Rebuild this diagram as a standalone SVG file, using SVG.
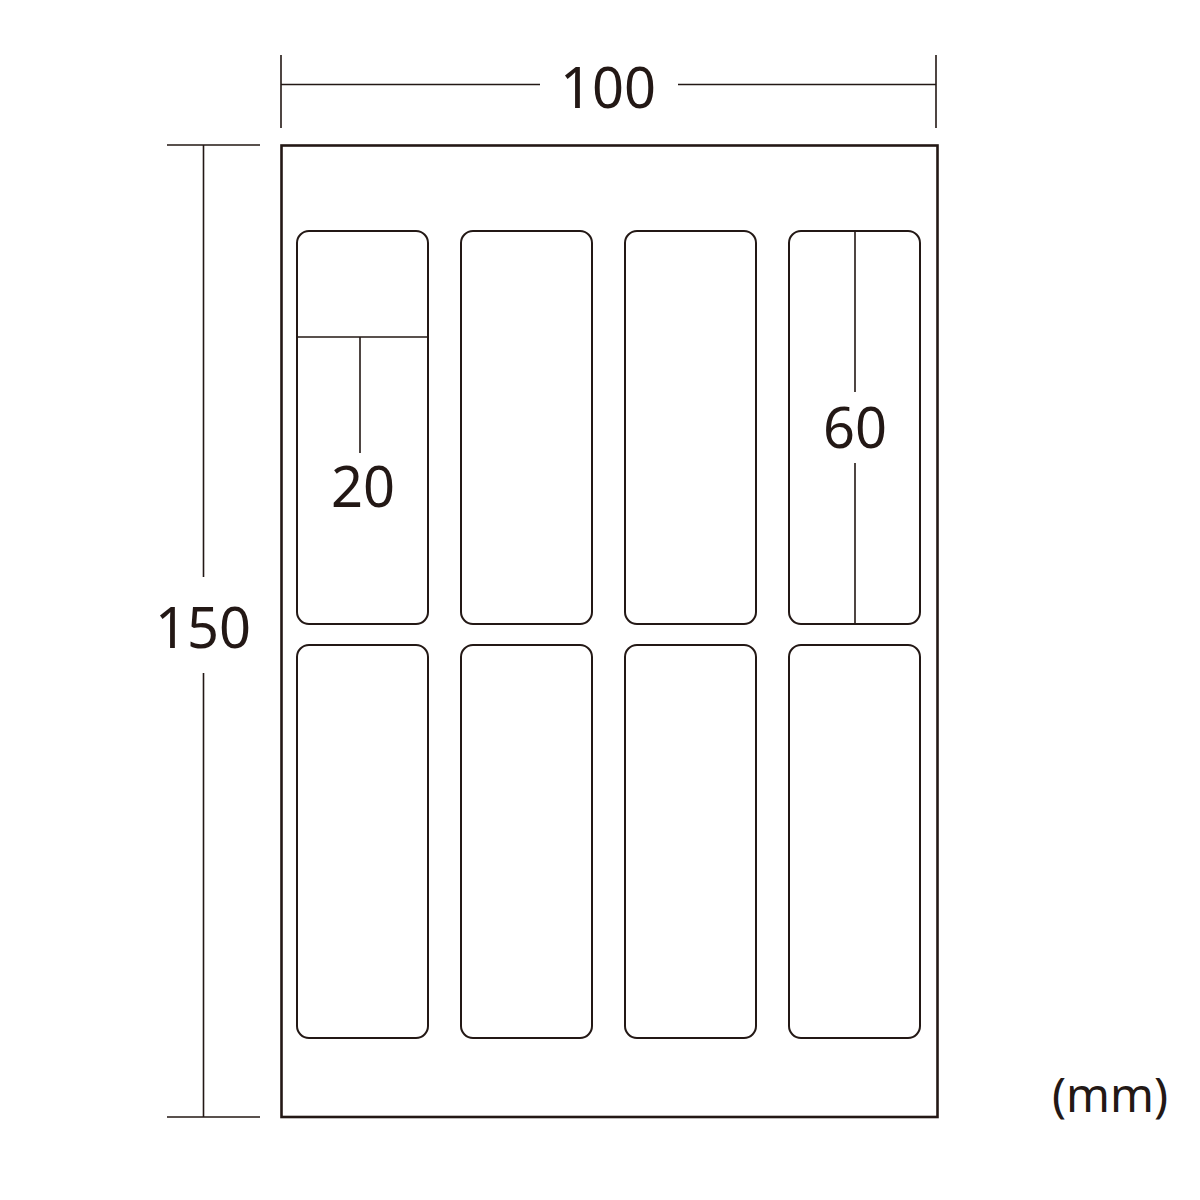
<svg xmlns="http://www.w3.org/2000/svg" width="1200" height="1200" viewBox="0 0 1200 1200">
<style>
.sheet{fill:#fff;stroke:#231815;stroke-width:2.6}
.lbl{fill:none;stroke:#231815;stroke-width:2}
.dim{fill:none;stroke:#231815;stroke-width:1.6}
.txt{font-family:"Noto Sans","DejaVu Sans",sans-serif;fill:#231815;text-anchor:middle}
.big{font-size:56px}
.unit{font-size:47px}
</style>
<rect width="1200" height="1200" fill="#fff"/>
<g id="sheet"><rect class="sheet" x="281.5" y="145.5" width="656" height="971.5"/></g>
<g id="labels">
<g id="label-1-1"><rect class="lbl" x="297" y="231" width="131" height="393" rx="12"/></g>
<g id="label-1-2"><rect class="lbl" x="461" y="231" width="131" height="393" rx="12"/></g>
<g id="label-1-3"><rect class="lbl" x="625" y="231" width="131" height="393" rx="12"/></g>
<g id="label-1-4"><rect class="lbl" x="789" y="231" width="131" height="393" rx="12"/></g>
<g id="label-2-1"><rect class="lbl" x="297" y="645" width="131" height="393" rx="12"/></g>
<g id="label-2-2"><rect class="lbl" x="461" y="645" width="131" height="393" rx="12"/></g>
<g id="label-2-3"><rect class="lbl" x="625" y="645" width="131" height="393" rx="12"/></g>
<g id="label-2-4"><rect class="lbl" x="789" y="645" width="131" height="393" rx="12"/></g>
</g>
<g id="connectors">
<path class="dim" d="M281,55V128M936,55V128M281,84.5H540M678,84.5H936"/>
<path class="dim" d="M167,145H260M167,1117H260M203.5,145V577M203.5,673V1117"/>
<path class="dim" d="M297,337H428M360,337V453"/>
<path class="dim" d="M855,231V392M855,463V624"/>
</g>
<g id="texts">
<text class="txt big" x="608" y="108">100</text>
<text class="txt big" x="203" y="648">150</text>
<text class="txt big" x="363" y="507">20</text>
<text class="txt big" x="855" y="448">60</text>
<text class="txt unit" x="1110" y="1112">(mm)</text>
</g>
</svg>
